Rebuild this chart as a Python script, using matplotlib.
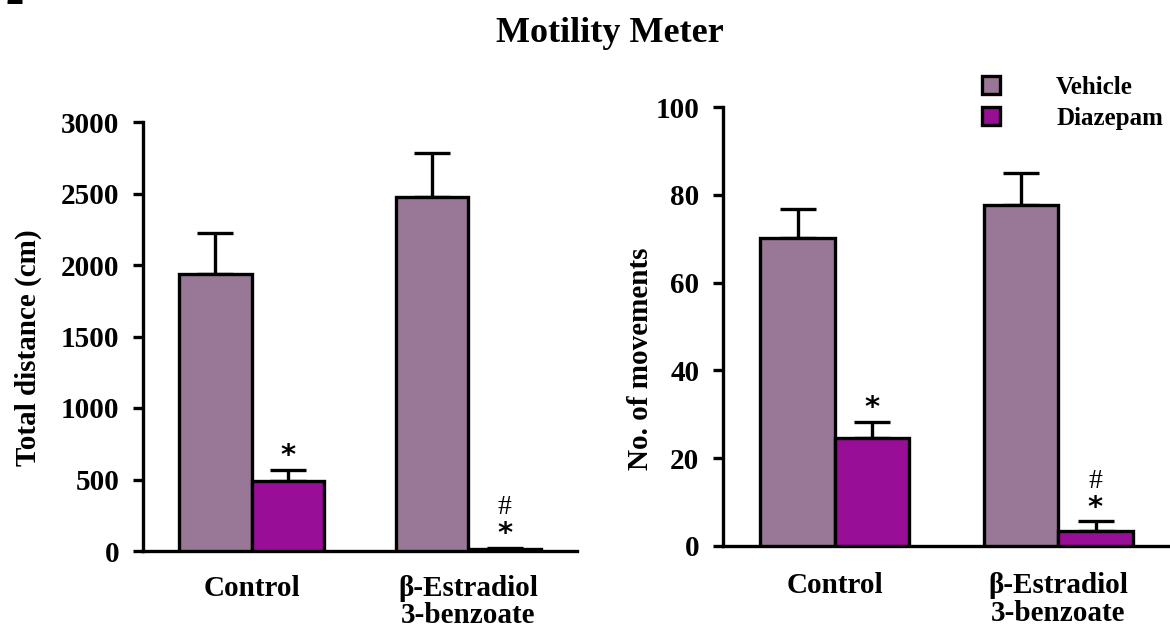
import matplotlib
matplotlib.use("Agg")
import matplotlib.pyplot as plt
from matplotlib.patches import Patch
import numpy as np

# ---- data ----
groups = ["Control", "β-Estradiol\n3-benzoate"]
series = ["Vehicle", "Diazepam"]
dist_vehicle = [1935, 2478]
dist_vehicle_err = [287, 303]
dist_diazepam = [493, 12]
dist_diazepam_err = [72, 12]
mov_vehicle = [70.2, 77.7]
mov_vehicle_err = [6.5, 7.3]
mov_diazepam = [24.7, 3.4]
mov_diazepam_err = [3.6, 2.2]
dist_ticks = [0, 500, 1000, 1500, 2000, 2500, 3000]
mov_ticks = [0, 20, 40, 60, 80, 100]
sig_star = [True, True]    # * over diazepam bars (per group)
sig_hash = [False, True]   # # over diazepam bars (per group)

colors = ["#987896", "#980E96"]
SERIF = ["Liberation Serif", "DejaVu Serif"]
plt.rcParams["font.family"] = SERIF
plt.rcParams["font.weight"] = "bold"

fig = plt.figure(figsize=(11.7, 6.3), dpi=100)
W, H = 1170, 630

def make_axes(px_left, px_right, px_top, px_bottom):
    return fig.add_axes([px_left / W, 1 - px_bottom / H,
                         (px_right - px_left) / W, (px_bottom - px_top) / H])

ax1 = make_axes(143, 577, 122, 551)
ax2 = make_axes(723, 1170, 107, 546)

def panel(ax, veh, veh_err, dia, dia_err, ticks, ylabel, ylab_xy, xpad):
    centers = np.arange(len(groups)) * 3.0
    lw = 2.4
    ax.bar(centers - 0.5, veh, width=1.0, color=colors[0], edgecolor="black",
           linewidth=lw, zorder=3)
    ax.bar(centers + 0.5, dia, width=1.0, color=colors[1], edgecolor="black",
           linewidth=lw, zorder=3)
    ax.errorbar(centers - 0.5, veh, yerr=[np.zeros(len(veh)), veh_err], fmt="none",
                ecolor="black", elinewidth=lw, capsize=13, capthick=lw, zorder=2)
    ax.errorbar(centers + 0.5, dia, yerr=[np.zeros(len(dia)), dia_err], fmt="none",
                ecolor="black", elinewidth=lw, capsize=13, capthick=lw, zorder=2)
    for i in range(len(groups)):
        top = dia[i] + dia_err[i]
        if sig_star[i]:
            ax.annotate("*", xy=(centers[i] + 0.5, top), xytext=(0, 10),
                        textcoords="offset points", ha="center", va="center",
                        fontsize=21, fontweight="bold", family=["DejaVu Sans"])
        if sig_hash[i]:
            ax.annotate("#", xy=(centers[i] + 0.5, top), xytext=(0, 29),
                        textcoords="offset points", ha="center", va="center",
                        fontsize=20, fontweight="normal", family=SERIF)
    ax.set_xlim(centers[0] - 1.5, centers[-1] + 1.5)
    ax.set_ylim(ticks[0], ticks[-1])
    ax.set_yticks(ticks)
    ax.set_yticklabels([str(t) for t in ticks], fontsize=21, fontweight="bold")
    ax.set_xticks(centers)
    ax.set_xticklabels(groups, fontsize=21, fontweight="bold", linespacing=1.02)
    ax.tick_params(axis="x", length=0, pad=xpad)
    ax.tick_params(axis="y", length=7, width=2.4, direction="out", pad=10)
    for s in ["top", "right"]:
        ax.spines[s].set_visible(False)
    for s in ["left", "bottom"]:
        ax.spines[s].set_linewidth(2.4)
    ax.set_ylabel(ylabel, fontsize=21, fontweight="bold")
    ax.yaxis.set_label_coords(*ylab_xy)

panel(ax1, dist_vehicle, dist_vehicle_err, dist_diazepam, dist_diazepam_err,
      dist_ticks, "Total distance (cm)", (-0.232, 0.474), 17)
panel(ax2, mov_vehicle, mov_vehicle_err, mov_diazepam, mov_diazepam_err,
      mov_ticks, "No. of movements", (-0.154, 0.426), 19)

handles = [Patch(facecolor=c, edgecolor="black", linewidth=2.4) for c in colors]
fig.legend(handles, series, loc="upper left", bbox_to_anchor=(982 / W, 1 - 76 / H),
           frameon=False, handlelength=0.72, handleheight=0.72,
           handletextpad=2.25, labelspacing=0.32, borderpad=0, borderaxespad=0,
           prop={"family": SERIF, "weight": "bold", "size": 18})

fig.text(610 / W, 1 - 42 / H, "Motility Meter", ha="center", va="baseline",
         fontsize=26, fontweight="bold")
fig.text(5 / W, 1 - 4 / H, "2", ha="left", va="baseline", fontsize=26,
         fontweight="bold")

fig.savefig("out.png", dpi=100)
